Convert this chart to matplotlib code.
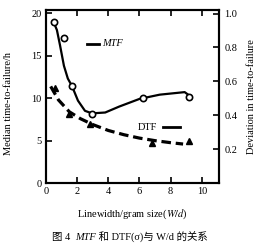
import numpy as np
import matplotlib.pyplot as plt

plt.rcParams['font.family'] = ['Liberation Serif', 'Noto Sans CJK SC']
plt.rcParams['mathtext.fontset'] = 'stix'

# MTF measured points (left axis, hours)
mtf_x = [0.5, 1.15, 1.65, 2.95, 6.2, 9.2]
mtf_y = [19.0, 17.1, 11.4, 8.1, 10.0, 10.1]
# MTF fitted curve
mtf_fit_x = [0.5, 0.7, 0.9, 1.15, 1.4, 1.67, 2.05, 2.5, 2.95, 3.8, 4.7, 6.0, 7.3, 8.9, 9.2]
mtf_fit_y = [18.9, 18.0, 16.2, 13.8, 12.3, 11.4, 9.7, 8.5, 8.2, 8.3, 9.0, 9.9, 10.4, 10.7, 10.3]

# DTF measured points (right axis, deviation)
dtf_x = [0.55, 1.5, 2.8, 6.8, 9.2]
dtf_y = [0.56, 0.41, 0.35, 0.235, 0.245]
# DTF fitted curve
dtf_fit_x = [0.3, 0.8, 1.5, 2.2, 3.0, 4.0, 5.0, 6.0, 7.0, 8.0, 8.8]
dtf_fit_y = [0.57, 0.49, 0.42, 0.38, 0.345, 0.31, 0.285, 0.265, 0.25, 0.238, 0.23]

fs = 7.5
fig = plt.figure(figsize=(2.6, 2.47), dpi=100)
ax = fig.add_axes([0.177, 0.259, 0.665, 0.70])
ax2 = ax.twinx()

ax.plot(mtf_fit_x, mtf_fit_y, color='black', lw=1.6)
ax.plot(mtf_x, mtf_y, 'o', ms=4.5, mfc='white', mec='black', mew=1.2)

ax2.plot(dtf_fit_x, dtf_fit_y, color='black', lw=2.3, ls=(0, (3, 1.5)))
ax2.plot(dtf_x, dtf_y, '^', ms=4, color='black')

# in-plot labels
ax.plot([2.6, 3.4], [16.4, 16.4], color='black', lw=2)
ax.text(3.6, 16.4, 'MTF', style='italic', fontsize=fs, va='center')
ax.text(5.9, 6.5, 'DTF', fontsize=fs, va='center')
ax.plot([7.5, 8.6], [6.6, 6.6], color='black', lw=2)

ax.set_xlim(0, 11.1)
ax.set_ylim(0, 20.35)
ax2.set_ylim(0, 1.02)
ax.set_xticks([0, 2, 4, 6, 8, 10])
ax.set_yticks([0, 5, 10, 15, 20])
ax2.set_yticks([0.2, 0.4, 0.6, 0.8, 1.0])
ax2.set_yticklabels(['0.2', '0.4', '0.6', '0.8', '1.0'])

ax.tick_params(direction='in', length=4, width=1.2, labelsize=fs, pad=3,
               top=True)
ax2.tick_params(direction='in', length=4, width=1.2, labelsize=fs, pad=4)
for a in (ax, ax2):
    for s in a.spines.values():
        s.set_linewidth(1.5)

ax.set_ylabel('Median time-to-failure/h', fontsize=fs)
ax.yaxis.set_label_coords(-0.19, 0.46)
ax2.set_ylabel('Deviation in time-to-failure', fontsize=fs)
ax2.yaxis.set_label_coords(1.165, 0.5)
ax.set_xlabel('Linewidth/gram size($W/d$)', fontsize=fs, labelpad=8)

# caption with italic MTF, laid out piece by piece
parts = [('图 4  ', 'normal'), ('MTF', 'italic'), (' 和 DTF(σ)与 W/d 的关系', 'normal')]
r = fig.canvas.get_renderer()
texts = [fig.text(0, 0.03, s, fontsize=fs, style=st) for s, st in parts]
widths = [t.get_window_extent(r).width for t in texts]
x0 = (fig.bbox.width - sum(widths)) / 2
for t, w in zip(texts, widths):
    t.set_x(x0 / fig.bbox.width)
    x0 += w

fig.savefig('out.png', dpi=100)
